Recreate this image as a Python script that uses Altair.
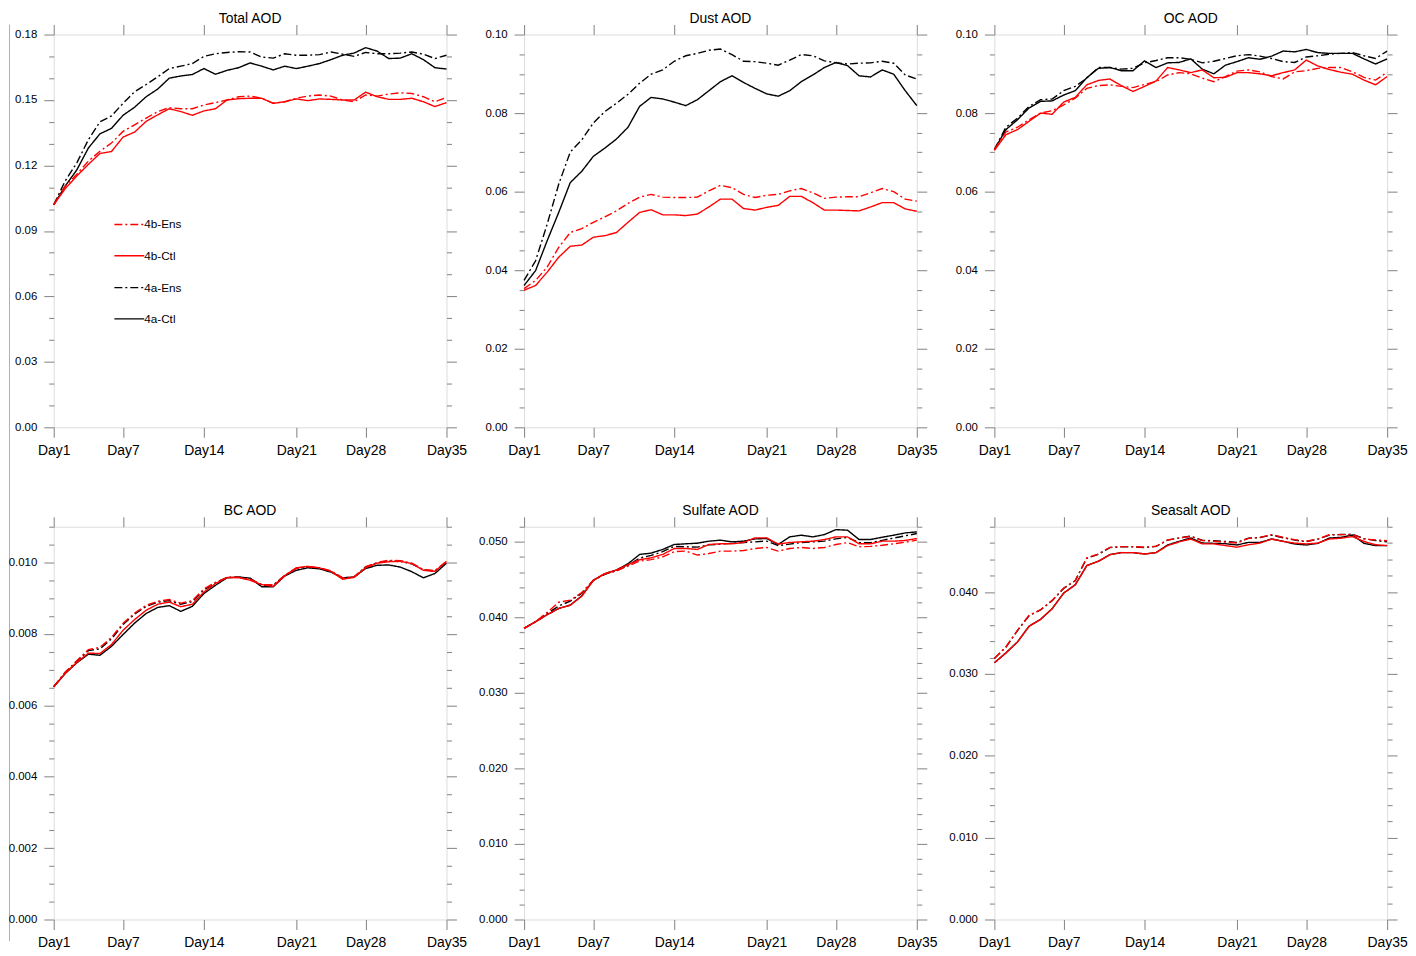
import altair as alt
import pandas as pd

FONT = "Liberation Sans"
GRAY = "#8c8c8c"

days = list(range(1, 36))
series_names = ["4a-Ctl", "4a-Ens", "4b-Ctl", "4b-Ens"]
series_colors = ["#000000", "#000000", "#ff0000", "#ff0000"]
series_dashes = [[1, 0], [8, 3, 2, 3], [1, 0], [8, 3, 2, 3]]

x_tick_days = [1, 7, 14, 22, 28, 35]
x_tick_labels = ["Day1", "Day7", "Day14", "Day21", "Day28", "Day35"]

# ---- Total AOD ----
t_4a_ctl = [0.102, 0.1106, 0.118, 0.128, 0.1345, 0.137, 0.143, 0.1467, 0.1515, 0.155, 0.160, 0.161, 0.1617, 0.1644, 0.1618, 0.1636, 0.1648, 0.167, 0.1655, 0.1638, 0.1655, 0.1644, 0.1655, 0.1667, 0.1685, 0.1705, 0.1715, 0.174, 0.1724, 0.169, 0.1692, 0.1712, 0.1685, 0.1648, 0.1642]
t_4a_ens = [0.102, 0.113, 0.1212, 0.1318, 0.140, 0.1427, 0.1485, 0.1538, 0.1571, 0.1606, 0.1644, 0.1655, 0.1667, 0.170, 0.1712, 0.1718, 0.1721, 0.172, 0.1697, 0.1692, 0.1712, 0.1705, 0.1705, 0.1708, 0.172, 0.171, 0.170, 0.1718, 0.1712, 0.1712, 0.1715, 0.172, 0.171, 0.169, 0.1705]
t_4b_ctl = [0.102, 0.1094, 0.1152, 0.1205, 0.1255, 0.1264, 0.133, 0.1353, 0.1402, 0.1432, 0.146, 0.1447, 0.143, 0.145, 0.146, 0.150, 0.1506, 0.1508, 0.1508, 0.1485, 0.1492, 0.1505, 0.1497, 0.1505, 0.1503, 0.150, 0.150, 0.1536, 0.1515, 0.1503, 0.1503, 0.1508, 0.1492, 0.147, 0.1488]
t_4b_ens = [0.102, 0.1106, 0.116, 0.122, 0.1265, 0.1303, 0.1356, 0.1386, 0.1417, 0.1447, 0.1465, 0.146, 0.146, 0.1477, 0.1488, 0.150, 0.1515, 0.1518, 0.1508, 0.1485, 0.1492, 0.1508, 0.1518, 0.1523, 0.1518, 0.150, 0.1492, 0.1523, 0.1518, 0.1527, 0.1533, 0.153, 0.1515, 0.1492, 0.1512]

# ---- Dust AOD ----
d_4a_ctl = [0.0361, 0.0399, 0.0475, 0.0547, 0.0623, 0.0652, 0.069, 0.0711, 0.0734, 0.0764, 0.0817, 0.084, 0.0836, 0.0828, 0.0819, 0.0834, 0.0857, 0.088, 0.0895, 0.0878, 0.0863, 0.0849, 0.0843, 0.0857, 0.088, 0.0897, 0.0916, 0.0929, 0.0921, 0.0895, 0.0892, 0.091, 0.0899, 0.0857, 0.0819]
d_4a_ens = [0.0374, 0.0424, 0.0517, 0.0619, 0.0701, 0.0732, 0.0775, 0.0804, 0.0825, 0.0848, 0.0876, 0.0899, 0.091, 0.0932, 0.0946, 0.0952, 0.096, 0.0963, 0.0949, 0.0932, 0.0931, 0.0927, 0.0922, 0.0935, 0.0949, 0.0946, 0.0933, 0.0928, 0.0925, 0.0927, 0.0928, 0.0932, 0.0927, 0.0897, 0.0887]
d_4b_ctl = [0.0349, 0.0361, 0.0395, 0.0433, 0.0461, 0.0464, 0.0484, 0.0488, 0.0496, 0.0522, 0.0547, 0.0554, 0.0541, 0.0541, 0.0539, 0.0543, 0.0561, 0.0581, 0.0581, 0.0557, 0.0553, 0.056, 0.0565, 0.0588, 0.0588, 0.0572, 0.0553, 0.0553, 0.0552, 0.0551, 0.0561, 0.0572, 0.0572, 0.0556, 0.055]
d_4b_ens = [0.0353, 0.0374, 0.0408, 0.0458, 0.0496, 0.0506, 0.0522, 0.0536, 0.0551, 0.057, 0.0586, 0.0593, 0.0586, 0.0585, 0.0585, 0.0586, 0.0602, 0.0616, 0.061, 0.0593, 0.0585, 0.0591, 0.0593, 0.0602, 0.0608, 0.0597, 0.0583, 0.0586, 0.0587, 0.0587, 0.0597, 0.0608, 0.06, 0.0581, 0.0576]

# ---- OC AOD ----
o_4a_ctl = [0.0707, 0.0758, 0.0783, 0.0813, 0.083, 0.0831, 0.0846, 0.0857, 0.089, 0.0914, 0.0916, 0.0908, 0.0908, 0.0933, 0.0916, 0.0928, 0.0929, 0.0938, 0.0912, 0.09, 0.0922, 0.0931, 0.0941, 0.0937, 0.0945, 0.0958, 0.0956, 0.0962, 0.0954, 0.0952, 0.0952, 0.0952, 0.0938, 0.0925, 0.0938]
o_4a_ens = [0.0707, 0.0764, 0.0787, 0.0817, 0.0834, 0.0836, 0.0857, 0.0868, 0.0889, 0.0916, 0.0916, 0.0912, 0.0914, 0.0928, 0.0934, 0.0941, 0.0941, 0.0937, 0.0928, 0.0932, 0.0939, 0.0946, 0.0949, 0.0945, 0.0939, 0.0931, 0.0929, 0.0943, 0.0946, 0.095, 0.0952, 0.0954, 0.0946, 0.0939, 0.0958]
o_4b_ctl = [0.0705, 0.0745, 0.0758, 0.0779, 0.08, 0.0797, 0.0828, 0.084, 0.0872, 0.0883, 0.0887, 0.087, 0.0855, 0.0868, 0.0882, 0.0916, 0.091, 0.0903, 0.091, 0.089, 0.0891, 0.0903, 0.0903, 0.09, 0.0895, 0.0903, 0.091, 0.0935, 0.092, 0.0911, 0.0904, 0.0899, 0.0884, 0.0872, 0.0893]
o_4b_ens = [0.0707, 0.0752, 0.0764, 0.0783, 0.08, 0.0806, 0.0821, 0.0838, 0.0863, 0.087, 0.0872, 0.0868, 0.0865, 0.0873, 0.088, 0.0897, 0.0903, 0.09, 0.0889, 0.088, 0.0893, 0.0907, 0.091, 0.0905, 0.0893, 0.0887, 0.0905, 0.0908, 0.0914, 0.0916, 0.0916, 0.0905, 0.0891, 0.0884, 0.0904]

# ---- BC AOD ----
b_4a_ctl = [0.00652, 0.00689, 0.00719, 0.00743, 0.0074, 0.00765, 0.00798, 0.0083, 0.00857, 0.00874, 0.00879, 0.00863, 0.00877, 0.00913, 0.00936, 0.00957, 0.00959, 0.00956, 0.00932, 0.00932, 0.00962, 0.00978, 0.00985, 0.00982, 0.00973, 0.00957, 0.00959, 0.00983, 0.00992, 0.00993, 0.00987, 0.00974, 0.00957, 0.00969, 0.00998]
b_4a_ens = [0.00652, 0.00692, 0.00723, 0.00753, 0.00758, 0.00786, 0.00826, 0.00855, 0.00877, 0.00889, 0.00893, 0.00883, 0.0089, 0.00923, 0.00943, 0.00958, 0.00959, 0.00955, 0.00936, 0.00936, 0.00964, 0.00984, 0.00988, 0.00984, 0.00975, 0.00956, 0.00959, 0.00987, 0.00999, 0.01004, 0.01003, 0.00996, 0.00979, 0.00976, 0.01002]
b_4b_ctl = [0.00652, 0.0069, 0.0072, 0.00746, 0.00745, 0.0077, 0.0081, 0.0084, 0.00866, 0.00883, 0.00889, 0.00876, 0.00883, 0.00917, 0.00941, 0.00958, 0.00958, 0.0095, 0.00938, 0.00933, 0.00963, 0.00985, 0.00989, 0.00985, 0.00975, 0.00953, 0.00958, 0.00985, 0.00998, 0.01002, 0.01003, 0.00997, 0.00978, 0.00975, 0.01003]
b_4b_ens = [0.00652, 0.00693, 0.00725, 0.00756, 0.00762, 0.0079, 0.0083, 0.00858, 0.0088, 0.00891, 0.00896, 0.00886, 0.00893, 0.00926, 0.00944, 0.00958, 0.00958, 0.00953, 0.00938, 0.00938, 0.00963, 0.00983, 0.00988, 0.00985, 0.00977, 0.00957, 0.0096, 0.00988, 0.01, 0.01006, 0.01005, 0.00998, 0.0098, 0.00977, 0.01003]

# ---- Sulfate AOD ----
s_4a_ctl = [0.03855, 0.03943, 0.04035, 0.04118, 0.04162, 0.04285, 0.04491, 0.04579, 0.04627, 0.0471, 0.04833, 0.04851, 0.04899, 0.04965, 0.04974, 0.04982, 0.05009, 0.05022, 0.05, 0.05009, 0.05039, 0.05044, 0.04965, 0.05066, 0.05088, 0.05066, 0.05096, 0.05162, 0.05154, 0.05031, 0.05031, 0.05061, 0.05088, 0.05118, 0.05132]
s_4a_ens = [0.03855, 0.03943, 0.0405, 0.0415, 0.04215, 0.0432, 0.0449, 0.0457, 0.0462, 0.0469, 0.04785, 0.0482, 0.0487, 0.0494, 0.04935, 0.0493, 0.0496, 0.0497, 0.0498, 0.0499, 0.05, 0.0501, 0.0495, 0.0497, 0.0499, 0.05, 0.0501, 0.0504, 0.0506, 0.0499, 0.0499, 0.0502, 0.0505, 0.0508, 0.0511]
s_4b_ctl = [0.03855, 0.03943, 0.04035, 0.04118, 0.04162, 0.0428, 0.04491, 0.04579, 0.04627, 0.04697, 0.04763, 0.04789, 0.04833, 0.04912, 0.04912, 0.04899, 0.04965, 0.04974, 0.04974, 0.04992, 0.05053, 0.05053, 0.0497, 0.04992, 0.05, 0.05009, 0.0503, 0.05066, 0.05066, 0.04974, 0.04974, 0.05009, 0.05009, 0.05018, 0.05044]
s_4b_ens = [0.03855, 0.03943, 0.04066, 0.042, 0.04228, 0.04329, 0.04491, 0.04575, 0.04615, 0.0468, 0.04745, 0.04765, 0.048, 0.0487, 0.04877, 0.04825, 0.04845, 0.04877, 0.04877, 0.04885, 0.04912, 0.04925, 0.04877, 0.04912, 0.04925, 0.04912, 0.04925, 0.04965, 0.0499, 0.04935, 0.0494, 0.04955, 0.04975, 0.04995, 0.05022]

# ---- Seasalt AOD ----
ss_4a_ctl = [0.03137, 0.03258, 0.03392, 0.03583, 0.03668, 0.03798, 0.03989, 0.0409, 0.04325, 0.04378, 0.04459, 0.04484, 0.04484, 0.04467, 0.04484, 0.04577, 0.04622, 0.04662, 0.04601, 0.04597, 0.04593, 0.04577, 0.04609, 0.04609, 0.0465, 0.04622, 0.04589, 0.04577, 0.04597, 0.04662, 0.0467, 0.04699, 0.04597, 0.04569, 0.04569]
ss_4a_ens = [0.0319, 0.03328, 0.0353, 0.03712, 0.03782, 0.03896, 0.04046, 0.0414, 0.04415, 0.04463, 0.04545, 0.04555, 0.04555, 0.04546, 0.0456, 0.04636, 0.04662, 0.04685, 0.04635, 0.04628, 0.0462, 0.04608, 0.0466, 0.04668, 0.04698, 0.04665, 0.04636, 0.04618, 0.04648, 0.04698, 0.04705, 0.04708, 0.04655, 0.04632, 0.04615]
ss_4b_ctl = [0.03137, 0.03258, 0.03392, 0.03583, 0.03668, 0.03798, 0.03989, 0.0409, 0.04325, 0.04378, 0.04459, 0.04484, 0.04484, 0.04467, 0.04484, 0.0457, 0.04615, 0.0465, 0.0459, 0.0459, 0.0457, 0.0455, 0.0458, 0.046, 0.0465, 0.0462, 0.046, 0.0459, 0.046, 0.0465, 0.0466, 0.0468, 0.0462, 0.0458, 0.0457]
ss_4b_ens = [0.0319, 0.03331, 0.03534, 0.03717, 0.03786, 0.039, 0.0405, 0.04143, 0.04419, 0.04467, 0.04548, 0.04557, 0.04557, 0.04548, 0.04561, 0.04638, 0.04662, 0.04682, 0.0463, 0.04622, 0.04613, 0.04601, 0.04658, 0.0467, 0.04703, 0.0467, 0.04642, 0.04622, 0.0465, 0.04703, 0.04703, 0.04703, 0.0465, 0.04638, 0.0463]

# ---- axis tick values (major labelled, minor unlabelled) ----
total_major = [0.0, 0.03, 0.06, 0.09, 0.12, 0.15, 0.18]
dust_major = [0.0, 0.02, 0.04, 0.06, 0.08, 0.1]
oc_major = [0.0, 0.02, 0.04, 0.06, 0.08, 0.1]
bc_major = [0.0, 0.002, 0.004, 0.006, 0.008, 0.01]
sulf_major = [0.0, 0.01, 0.02, 0.03, 0.04, 0.05]
salt_major = [0.0, 0.01, 0.02, 0.03, 0.04]

total_ticks = [round(i * 0.01, 4) for i in range(0, 19)]
dust_ticks = [round(i * 0.005, 4) for i in range(0, 21)]
oc_ticks = [round(i * 0.005, 4) for i in range(0, 21)]
bc_ticks = [round(i * 0.0005, 5) for i in range(0, 23)]
sulf_ticks = [round(i * 0.002, 4) for i in range(0, 27)]
salt_ticks = [round(i * 0.002, 4) for i in range(0, 25)]

panels = [
    ("Total AOD", [t_4a_ctl, t_4a_ens, t_4b_ctl, t_4b_ens], [0, 0.18], total_major, total_ticks, ".2f"),
    ("Dust AOD", [d_4a_ctl, d_4a_ens, d_4b_ctl, d_4b_ens], [0, 0.10], dust_major, dust_ticks, ".2f"),
    ("OC AOD", [o_4a_ctl, o_4a_ens, o_4b_ctl, o_4b_ens], [0, 0.10], oc_major, oc_ticks, ".2f"),
    ("BC AOD", [b_4a_ctl, b_4a_ens, b_4b_ctl, b_4b_ens], [0, 0.011], bc_major, bc_ticks, ".3f"),
    ("Sulfate AOD", [s_4a_ctl, s_4a_ens, s_4b_ctl, s_4b_ens], [0, 0.052], sulf_major, sulf_ticks, ".3f"),
    ("Seasalt AOD", [ss_4a_ctl, ss_4a_ens, ss_4b_ctl, ss_4b_ens], [0, 0.048], salt_major, salt_ticks, ".3f"),
]

legend_names = ["4b-Ens", "4b-Ctl", "4a-Ens", "4a-Ctl"]
legend_ypix = [191, 222.5, 254.5, 286]

x_label_expr = " : ".join(
    f"datum.value == {d} ? '{lab}'" for d, lab in zip(x_tick_days, x_tick_labels)
) + " : ''"

color_enc = alt.Color("series:N", scale=alt.Scale(domain=series_names, range=series_colors), legend=None)
dash_enc = alt.StrokeDash("series:N", scale=alt.Scale(domain=series_names, range=series_dashes), legend=None)

PANEL_W = 395
PANEL_H = 395


def make_panel(title, vals, domain, major, ticks, fmt, with_legend=False):
    rows = []
    for name, arr in zip(series_names, vals):
        for d, v in zip(days, arr):
            rows.append({"day": d, "value": v, "series": name})
    df = pd.DataFrame(rows)
    one = pd.DataFrame({"k": [0]})
    xs = alt.Scale(domain=[1, 35], nice=False, zero=False)
    ys = alt.Scale(domain=domain, nice=False, zero=False)
    major_js = "[" + ",".join(repr(v) for v in major) + "]"
    is_major = f"indexof({major_js}, datum.value) >= 0"
    tick_size = {"condition": {"test": is_major, "value": 10}, "value": 5}

    common = dict(domain=False, grid=False, title=None, tickColor=GRAY, tickWidth=1.1)

    base = alt.Chart(df)
    main = base.mark_line(strokeWidth=1.4).encode(
        x=alt.X("day:Q", scale=xs, axis=alt.Axis(
            orient="bottom", values=x_tick_days, labelExpr=x_label_expr, tickSize=10,
            labelFontSize=14, labelFont=FONT, labelColor="black", labelPadding=6,
            labelFlush=False, labelOverlap=False, **common)),
        y=alt.Y("value:Q", scale=ys, axis=alt.Axis(
            orient="left", values=ticks,
            labelExpr=f"{is_major} ? format(datum.value, '{fmt}') : ''",
            tickSize=tick_size, labelFontSize=11.5, labelFont=FONT, labelColor="black",
            labelPadding=7, labelFlush=False, labelOverlap=False, **common)),
        color=color_enc,
        strokeDash=dash_enc,
    )
    ghost = base.mark_line(opacity=0).encode(
        x=alt.X("day:Q", scale=xs, axis=alt.Axis(
            orient="top", values=x_tick_days, labels=False, tickSize=10, **common)),
        y=alt.Y("value:Q", scale=ys, axis=alt.Axis(
            orient="right", values=ticks, labels=False, tickSize=tick_size, **common)),
        detail="series:N",
    )
    title_text = alt.Chart(one).mark_text(
        text=title, align="center", baseline="alphabetic", font=FONT, fontSize=14, color="black"
    ).encode(x=alt.value(PANEL_W / 2), y=alt.value(-12))
    layers = [main, ghost, title_text]
    if with_legend:
        # thin page-edge line seen at the far left of the reference
        layers.append(
            alt.Chart(one).mark_rule(color="#b0b0b0", strokeWidth=1).encode(
                x=alt.value(-44.5), y=alt.value(-10), y2=alt.value(912))
        )
        for name, yp in zip(legend_names, legend_ypix):
            idx = series_names.index(name)
            layers.append(
                alt.Chart(one).mark_rule(
                    strokeWidth=1.4, color=series_colors[idx], strokeDash=series_dashes[idx]
                ).encode(x=alt.value(61), x2=alt.value(91), y=alt.value(yp))
            )
            layers.append(
                alt.Chart(one).mark_text(
                    text=name, align="left", baseline="middle", font=FONT, fontSize=11.8, color="black"
                ).encode(x=alt.value(91), y=alt.value(yp))
            )
    return alt.layer(*layers).resolve_axis(x="independent", y="independent").properties(
        width=PANEL_W, height=PANEL_H,
    )


charts = [make_panel(*p, with_legend=(i == 0)) for i, p in enumerate(panels)]

chart = alt.concat(*charts, columns=3, spacing={"row": 100, "column": 78}, bounds="flush").properties(
    padding={"left": -1, "top": 0, "right": 0, "bottom": 0}
).configure_view(stroke=GRAY, strokeWidth=1.2).configure(font=FONT)

chart.save("out.html", embed_options={"renderer": "svg", "actions": False})
